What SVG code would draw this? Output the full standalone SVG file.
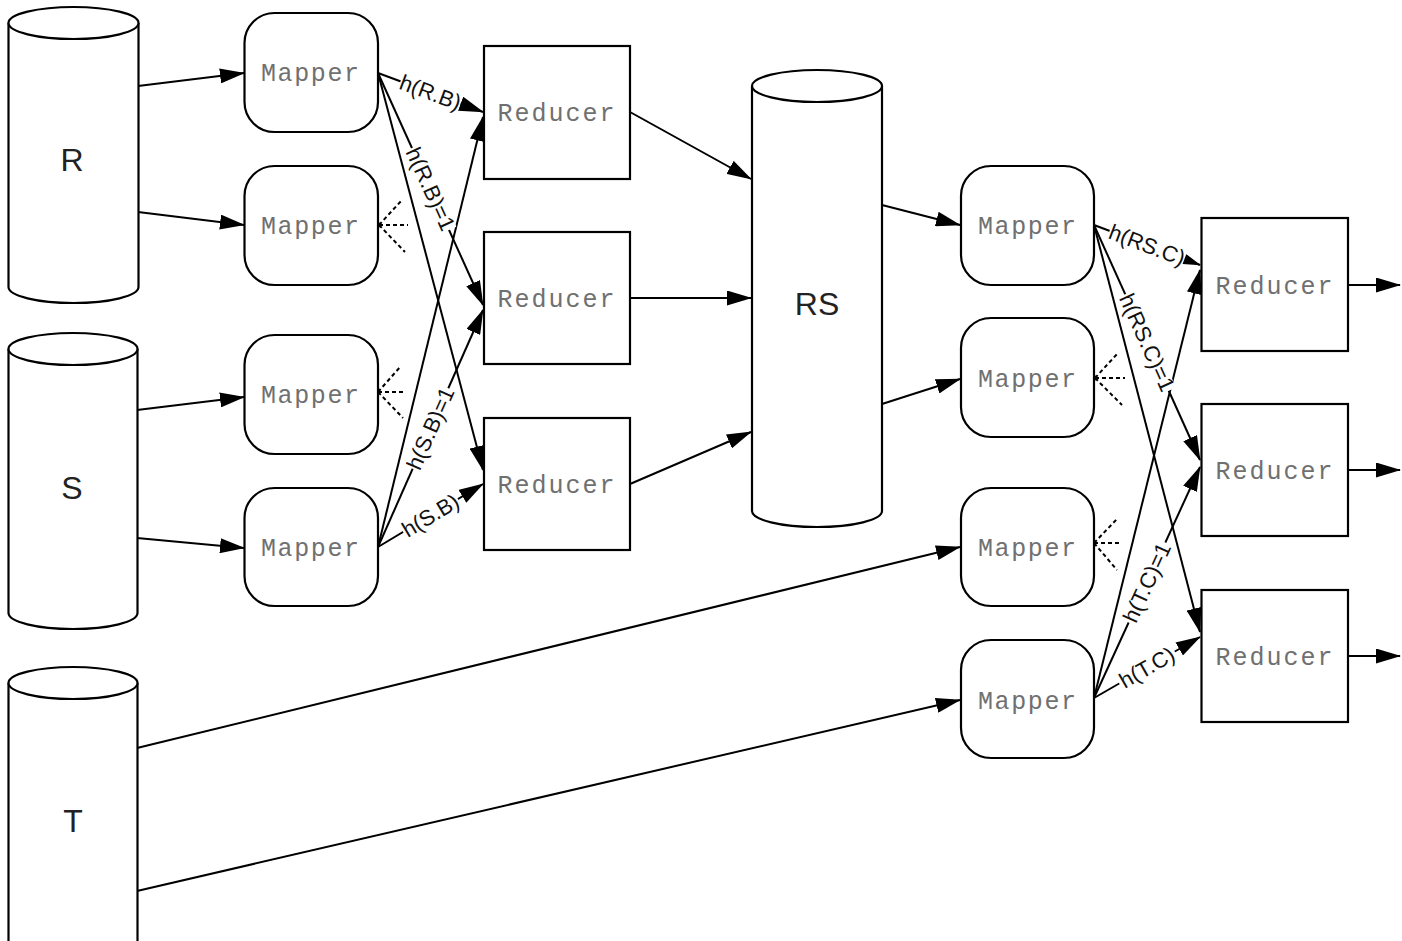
<svg xmlns="http://www.w3.org/2000/svg" width="1402" height="941" viewBox="0 0 1402 941">
<defs>
<marker id="arr" viewBox="0 0 25 15" refX="24" refY="7.5" markerWidth="25" markerHeight="15" markerUnits="userSpaceOnUse" orient="auto">
<path d="M0,0 L25,7.5 L0,15 z" fill="#000"/>
</marker>
<style>
.shape{fill:#fff;stroke:#000;stroke-width:2.2}
.conn{fill:none;stroke:#000;stroke-width:2;marker-end:url(#arr)}
.dash{fill:none;stroke:#000;stroke-width:2;stroke-dasharray:4 3}
.mono{font-family:"Liberation Mono","Courier New",monospace;font-size:25px;fill:#707070;text-anchor:middle}
.big{font-family:"Liberation Sans",Arial,sans-serif;font-size:32px;fill:#222;text-anchor:middle}
.lbl{font-family:"Liberation Sans",Arial,sans-serif;font-size:22px;fill:#111;text-anchor:middle;dominant-baseline:central}
.bg{fill:#fff;stroke:none}
</style>
</defs>
<rect width="1402" height="941" fill="#fff"/>

<g id="connectors">
<path class="conn" d="M138,86 L244,73"/>
<path class="conn" d="M138,212 L244,225"/>
<path class="conn" d="M137,410 L244,397"/>
<path class="conn" d="M137,538 L244,548"/>
<path class="conn" d="M137,748 L960,547"/>
<path class="conn" d="M137,891 L960,700"/>
<path class="conn" d="M378,73 L483,112"/>
<path class="conn" d="M378,73 L483,305"/>
<path class="conn" d="M378,73 L483,470"/>
<path class="conn" d="M378,547 L483,484"/>
<path class="conn" d="M378,547 L483,310"/>
<path class="conn" d="M378,547 L483,117"/>
<path class="conn" d="M630,112 L751,179"/>
<path class="conn" d="M630,298 L751,298"/>
<path class="conn" d="M630,484 L751,432"/>
<path class="conn" d="M882,205 L960,225"/>
<path class="conn" d="M882,404 L960,379"/>
<path class="conn" d="M1094,225 L1200,265"/>
<path class="conn" d="M1094,225 L1200,460"/>
<path class="conn" d="M1094,225 L1200,632"/>
<path class="conn" d="M1094,698 L1200,637"/>
<path class="conn" d="M1094,698 L1200,467"/>
<path class="conn" d="M1094,698 L1200,270"/>
<path class="conn" d="M1348,285 L1400,285"/>
<path class="conn" d="M1348,470 L1400,470"/>
<path class="conn" d="M1348,656 L1400,656"/>
<g id="fans">
<path class="dash" d="M379,225 L402,200 M379,225 L408,225 M379,225 L405,252"/>
<circle cx="379" cy="225" r="2.4"/>
<path class="dash" d="M378,392 L401,366 M378,392 L405,392 M378,392 L403,418"/>
<circle cx="378" cy="392" r="2.4"/>
<path class="dash" d="M1095,378 L1118,353 M1095,378 L1125,378 M1095,378 L1122,405"/>
<circle cx="1095" cy="378" r="2.4"/>
<path class="dash" d="M1094,543 L1117,519 M1094,543 L1122,543 M1094,543 L1117,570"/>
<circle cx="1094" cy="543" r="2.4"/>
</g>
<g id="labels">
<g transform="translate(430.5,92.5) rotate(20.4)"><rect class="bg" x="-32" y="-8" width="64" height="16"/><text class="lbl" x="0" y="0">h(R.B)</text></g>
<g transform="translate(430.5,189) rotate(65.6)"><rect class="bg" x="-45" y="-8" width="90" height="16"/><text class="lbl" x="0" y="0">h(R.B)=1</text></g>
<g transform="translate(430.5,515.5) rotate(-31)"><rect class="bg" x="-32" y="-8" width="64" height="16"/><text class="lbl" x="0" y="0">h(S.B)</text></g>
<g transform="translate(430.5,428.5) rotate(-66.1)"><rect class="bg" x="-44" y="-8" width="88" height="16"/><text class="lbl" x="0" y="0">h(S.B)=1</text></g>
<g transform="translate(1147,245) rotate(20.7)"><rect class="bg" x="-40" y="-8" width="80" height="16"/><text class="lbl" x="0" y="0">h(RS.C)</text></g>
<g transform="translate(1147,342.5) rotate(65.7)"><rect class="bg" x="-53" y="-8" width="106" height="16"/><text class="lbl" x="0" y="0">h(RS.C)=1</text></g>
<g transform="translate(1147,667.5) rotate(-29.9)"><rect class="bg" x="-32" y="-8" width="64" height="16"/><text class="lbl" x="0" y="0">h(T.C)</text></g>
<g transform="translate(1147,582.5) rotate(-65.3)"><rect class="bg" x="-44" y="-8" width="88" height="16"/><text class="lbl" x="0" y="0">h(T.C)=1</text></g>
</g>
</g>

<g id="R">
<path class="shape" d="M8.5,23 L8.5,287 A65,16 0 0 0 138.5,287 L138.5,23"/>
<ellipse class="shape" cx="73.5" cy="23" rx="65" ry="16"/>
<text class="big" x="72" y="171">R</text>
</g>
<g id="S">
<path class="shape" d="M8.5,349 L8.5,613 A64.5,16 0 0 0 137.5,613 L137.5,349"/>
<ellipse class="shape" cx="73" cy="349" rx="64.5" ry="16"/>
<text class="big" x="72" y="499">S</text>
</g>
<g id="T">
<path class="shape" d="M8.5,683 L8.5,950 L137.5,950 L137.5,683"/>
<ellipse class="shape" cx="73" cy="683" rx="64.5" ry="16"/>
<text class="big" x="73" y="832">T</text>
</g>
<g id="RS">
<path class="shape" d="M752,86 L752,511 A65,16 0 0 0 882,511 L882,86"/>
<ellipse class="shape" cx="817" cy="86" rx="65" ry="16"/>
<text class="big" x="817" y="315">RS</text>
</g>

<g id="mapper1"><rect class="shape" x="244.5" y="13" width="133.5" height="119" rx="30"/><text class="mono" x="310" y="81" textLength="98" lengthAdjust="spacing">Mapper</text></g>
<g id="mapper2"><rect class="shape" x="244.5" y="166" width="133.5" height="119" rx="30"/><text class="mono" x="310" y="234" textLength="98" lengthAdjust="spacing">Mapper</text></g>
<g id="mapper3"><rect class="shape" x="244.5" y="335" width="133.5" height="119" rx="30"/><text class="mono" x="310" y="403" textLength="98" lengthAdjust="spacing">Mapper</text></g>
<g id="mapper4"><rect class="shape" x="244.5" y="488" width="133.5" height="118" rx="30"/><text class="mono" x="310" y="556" textLength="98" lengthAdjust="spacing">Mapper</text></g>

<g id="reducer1"><rect class="shape" x="484" y="46" width="146" height="133"/><text class="mono" x="556" y="121" textLength="117" lengthAdjust="spacing">Reducer</text></g>
<g id="reducer2"><rect class="shape" x="484" y="232" width="146" height="132"/><text class="mono" x="556" y="307" textLength="117" lengthAdjust="spacing">Reducer</text></g>
<g id="reducer3"><rect class="shape" x="484" y="418" width="146" height="132"/><text class="mono" x="556" y="493" textLength="117" lengthAdjust="spacing">Reducer</text></g>

<g id="mapper5"><rect class="shape" x="961" y="166" width="133" height="119" rx="30"/><text class="mono" x="1027" y="234" textLength="98" lengthAdjust="spacing">Mapper</text></g>
<g id="mapper6"><rect class="shape" x="961" y="318" width="133" height="119" rx="30"/><text class="mono" x="1027" y="387" textLength="98" lengthAdjust="spacing">Mapper</text></g>
<g id="mapper7"><rect class="shape" x="961" y="488" width="133" height="118" rx="30"/><text class="mono" x="1027" y="556" textLength="98" lengthAdjust="spacing">Mapper</text></g>
<g id="mapper8"><rect class="shape" x="961" y="640" width="133" height="118" rx="30"/><text class="mono" x="1027" y="709" textLength="98" lengthAdjust="spacing">Mapper</text></g>

<g id="reducer4"><rect class="shape" x="1201.5" y="218" width="146.5" height="133"/><text class="mono" x="1274" y="294" textLength="117" lengthAdjust="spacing">Reducer</text></g>
<g id="reducer5"><rect class="shape" x="1201.5" y="404" width="146.5" height="132"/><text class="mono" x="1274" y="479" textLength="117" lengthAdjust="spacing">Reducer</text></g>
<g id="reducer6"><rect class="shape" x="1201.5" y="590" width="146.5" height="132"/><text class="mono" x="1274" y="665" textLength="117" lengthAdjust="spacing">Reducer</text></g>
</svg>
